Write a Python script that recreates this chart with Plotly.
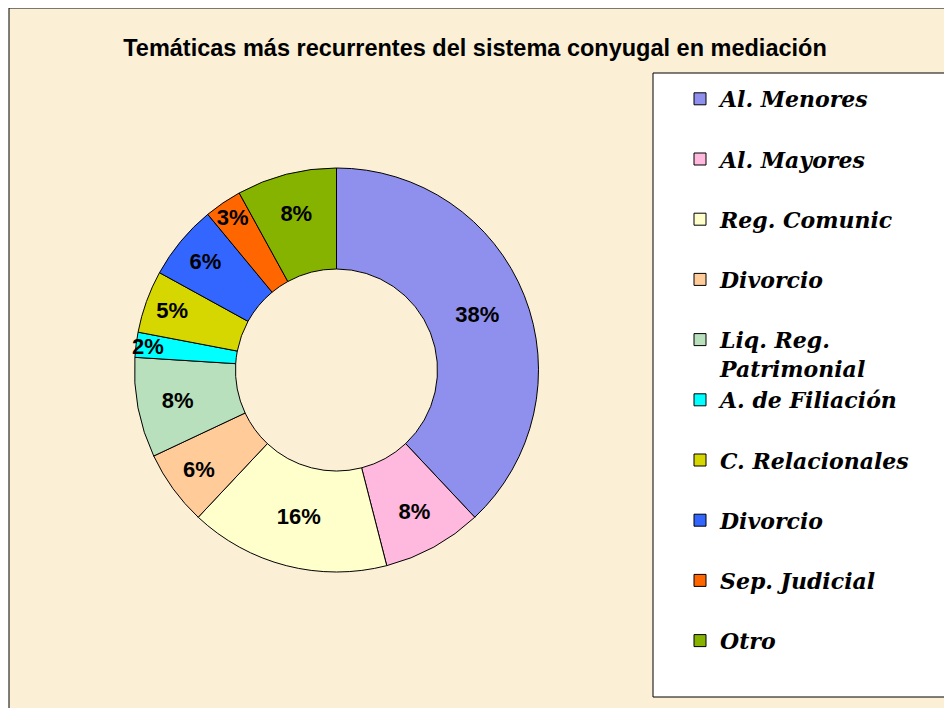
import plotly.graph_objects as go

W, H = 952, 708
OFF = 8  # the page body adds an 8px margin around the figure

labels = ["Al. Menores", "Al. Mayores", "Reg. Comunic", "Divorcio",
          "Liq. Reg.<br>Patrimonial", "A. de Filiación", "C. Relacionales",
          "Divorcio\u200b", "Sep. Judicial", "Otro"]
values = [38, 8, 16, 6, 8, 2, 5, 6, 3, 8]
colors = ["#8F8FEE", "#FFB8DE", "#FFFFCC", "#FFCC99", "#B8E0BC",
          "#00FFFF", "#D6D600", "#3366FF", "#FF6600", "#86B300"]

BG = "#FBEFD6"


def px_x(p):
    return (p - OFF) / W


def px_y(p):
    return 1 - (p - OFF) / H


# legend entries get an empty second line so the spacing matches the original
legend_names = [l if "<br>" in l else l + "<br> " for l in labels]

cx, cy, r = 336.5, 370, 202

fig = go.Figure(
    go.Pie(
        labels=legend_names,
        values=values,
        sort=False,
        direction="clockwise",
        rotation=0,
        hole=0.5,
        marker=dict(colors=colors, line=dict(color="black", width=1)),
        texttemplate="<b>%{value}%</b>",
        textposition="inside",
        insidetextorientation="horizontal",
        textfont=dict(family="Liberation Sans, Arial", size=22, color="black"),
        domain=dict(x=[px_x(cx - r), px_x(cx + r)], y=[px_y(cy + r), px_y(cy - r)]),
        hoverinfo="label+percent",
    )
)

fig.add_shape(type="rect", xref="paper", yref="paper", layer="below",
              x0=px_x(9), x1=px_x(951), y0=px_y(712), y1=px_y(8),
              fillcolor=BG, line=dict(color="black", width=1))
fig.add_shape(type="rect", xref="paper", yref="paper", layer="below",
              x0=px_x(653), x1=px_x(956), y0=px_y(697), y1=px_y(73),
              fillcolor="white", line=dict(color="black", width=1))

fig.update_layout(
    width=W, height=H,
    margin=dict(l=0, r=0, t=0, b=0),
    paper_bgcolor="white",
    plot_bgcolor="rgba(0,0,0,0)",
    title=dict(text="<b>Temáticas más recurrentes del sistema conyugal en mediación</b>",
               x=px_x(475), xanchor="center", y=px_y(48), yanchor="middle",
               font=dict(family="Liberation Sans, Arial", size=23.5, color="black")),
    legend=dict(x=px_x(680), xanchor="left", y=px_y(78), yanchor="top",
                bgcolor="rgba(0,0,0,0)", borderwidth=0, valign="top",
                font=dict(family="DejaVu Serif", size=22, color="black",
                          style="italic", weight="bold")),
    uniformtext=dict(minsize=22, mode="show"),
)

fig.write_html("out.html")
